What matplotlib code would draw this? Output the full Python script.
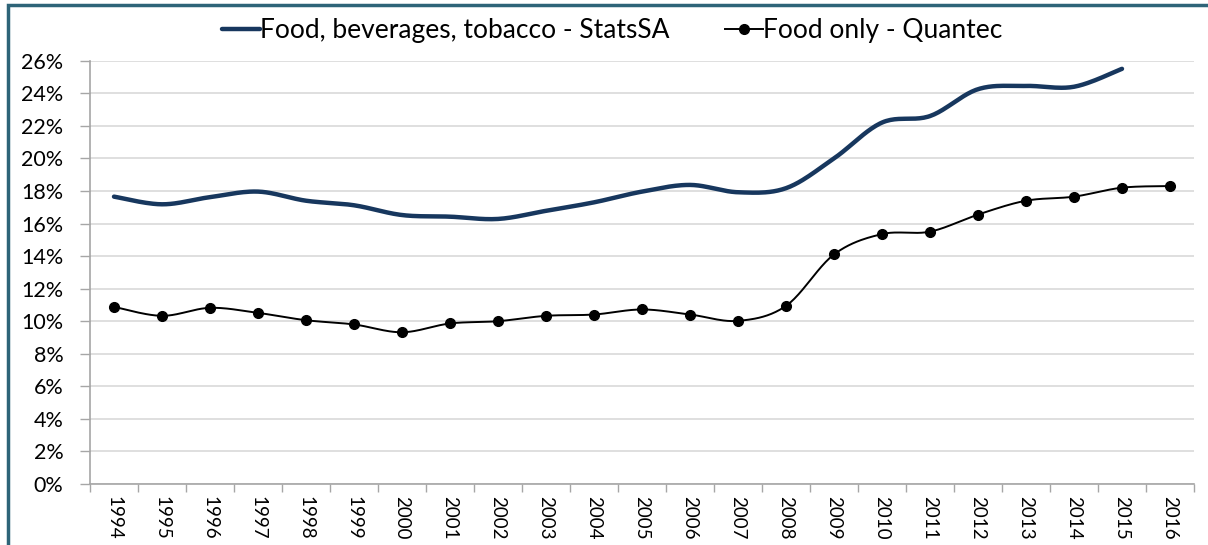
import numpy as np
import matplotlib.pyplot as plt
from matplotlib.patches import Rectangle
from matplotlib.ticker import FuncFormatter, FixedLocator

years = list(range(1994, 2017))
statssa_years = list(range(1994, 2016))
statssa = [17.65, 17.18, 17.62, 17.96, 17.4, 17.12, 16.52, 16.42, 16.28,
           16.78, 17.3, 17.96, 18.37, 17.92, 18.17, 20.0, 22.2, 22.6,
           24.25, 24.45, 24.4, 25.5]
quantec = [10.88, 10.33, 10.82, 10.51, 10.06, 9.8, 9.32, 9.86, 10.0,
           10.33, 10.41, 10.72, 10.41, 10.02, 10.94, 14.1, 15.35, 15.5,
           16.55, 17.4, 17.65, 18.2, 18.3]


def smooth(x, y, n=24):
    # Catmull-Rom style bezier through every point, like a spreadsheet "smoothed line"
    x = np.asarray(x, float)
    y = np.asarray(y, float)
    px = np.concatenate([[x[0]], x, [x[-1]]])
    py = np.concatenate([[y[0]], y, [y[-1]]])
    xs, ys = [], []
    t = np.linspace(0, 1, n)
    for i in range(1, len(px) - 2):
        p0 = np.array([px[i], py[i]])
        p3 = np.array([px[i + 1], py[i + 1]])
        p1 = p0 + (np.array([px[i + 1], py[i + 1]]) - np.array([px[i - 1], py[i - 1]])) / 6
        p2 = p3 - (np.array([px[i + 2], py[i + 2]]) - np.array([px[i], py[i]])) / 6
        b = ((1 - t) ** 3)[:, None] * p0 + (3 * (1 - t) ** 2 * t)[:, None] * p1 \
            + (3 * (1 - t) * t ** 2)[:, None] * p2 + (t ** 3)[:, None] * p3
        xs.extend(b[:, 0])
        ys.extend(b[:, 1])
    return np.array(xs), np.array(ys)


plt.rcParams['font.family'] = ['Lato', 'DejaVu Sans']

fig = plt.figure(figsize=(12.08, 5.45), dpi=100)
ax = fig.add_axes([90 / 1208, 1 - 484 / 545, 1104 / 1208, (484 - 60.7) / 545])

navy = '#17375E'
xs_idx = np.arange(len(years))
sx, sy = smooth(np.arange(len(statssa_years)), statssa)
ax.plot(sx, sy, color=navy, lw=3.2, solid_capstyle='round',
        label='Food, beverages, tobacco - StatsSA')
qx, qy = smooth(xs_idx, quantec)
ax.plot(qx, qy, color='black', lw=1.4)
ax.plot(xs_idx, quantec, 'o', color='black', ms=7)
ax.plot([], [], color='black', lw=1.4, marker='o', ms=7, label='Food only - Quantec')

ax.set_xlim(-0.5, len(years) - 0.5)
ax.set_ylim(0, 26)
ax.set_yticks(np.arange(0, 27, 2))
ax.yaxis.set_major_formatter(FuncFormatter(lambda v, p: f'{v:.0f}%'))
ax.set_xticks(xs_idx)
ax.set_xticklabels([str(y) for y in years], rotation=270)
ax.xaxis.set_minor_locator(FixedLocator(np.arange(-0.5, len(years), 1)))
ax.tick_params(axis='x', which='major', length=0, pad=9, labelsize=13.5)
ax.tick_params(axis='x', which='minor', length=6, color='#A6A6A6', width=1)
ax.tick_params(axis='y', length=7, color='#A6A6A6', width=1, labelsize=15.5, pad=12)

ax.grid(axis='y', color='#D9D9D9', lw=1.2)
ax.set_axisbelow(True)
for s in ['top', 'right']:
    ax.spines[s].set_visible(False)
for s in ['left', 'bottom']:
    ax.spines[s].set_color('#A6A6A6')
    ax.spines[s].set_linewidth(1.2)

fig.legend(loc='upper center', bbox_to_anchor=(612 / 1208, 1.01), ncol=2,
           frameon=False, fontsize=19, handlelength=1.45, handletextpad=0.0,
           columnspacing=2.1)

# outer chart frame
fig.patches.append(Rectangle((8 / 1208, -0.1), 1.2, 1 - 5 / 545 + 0.1,
                             transform=fig.transFigure, fill=False,
                             edgecolor='#2E6478', lw=2.5))

fig.savefig('out.png', dpi=100)
